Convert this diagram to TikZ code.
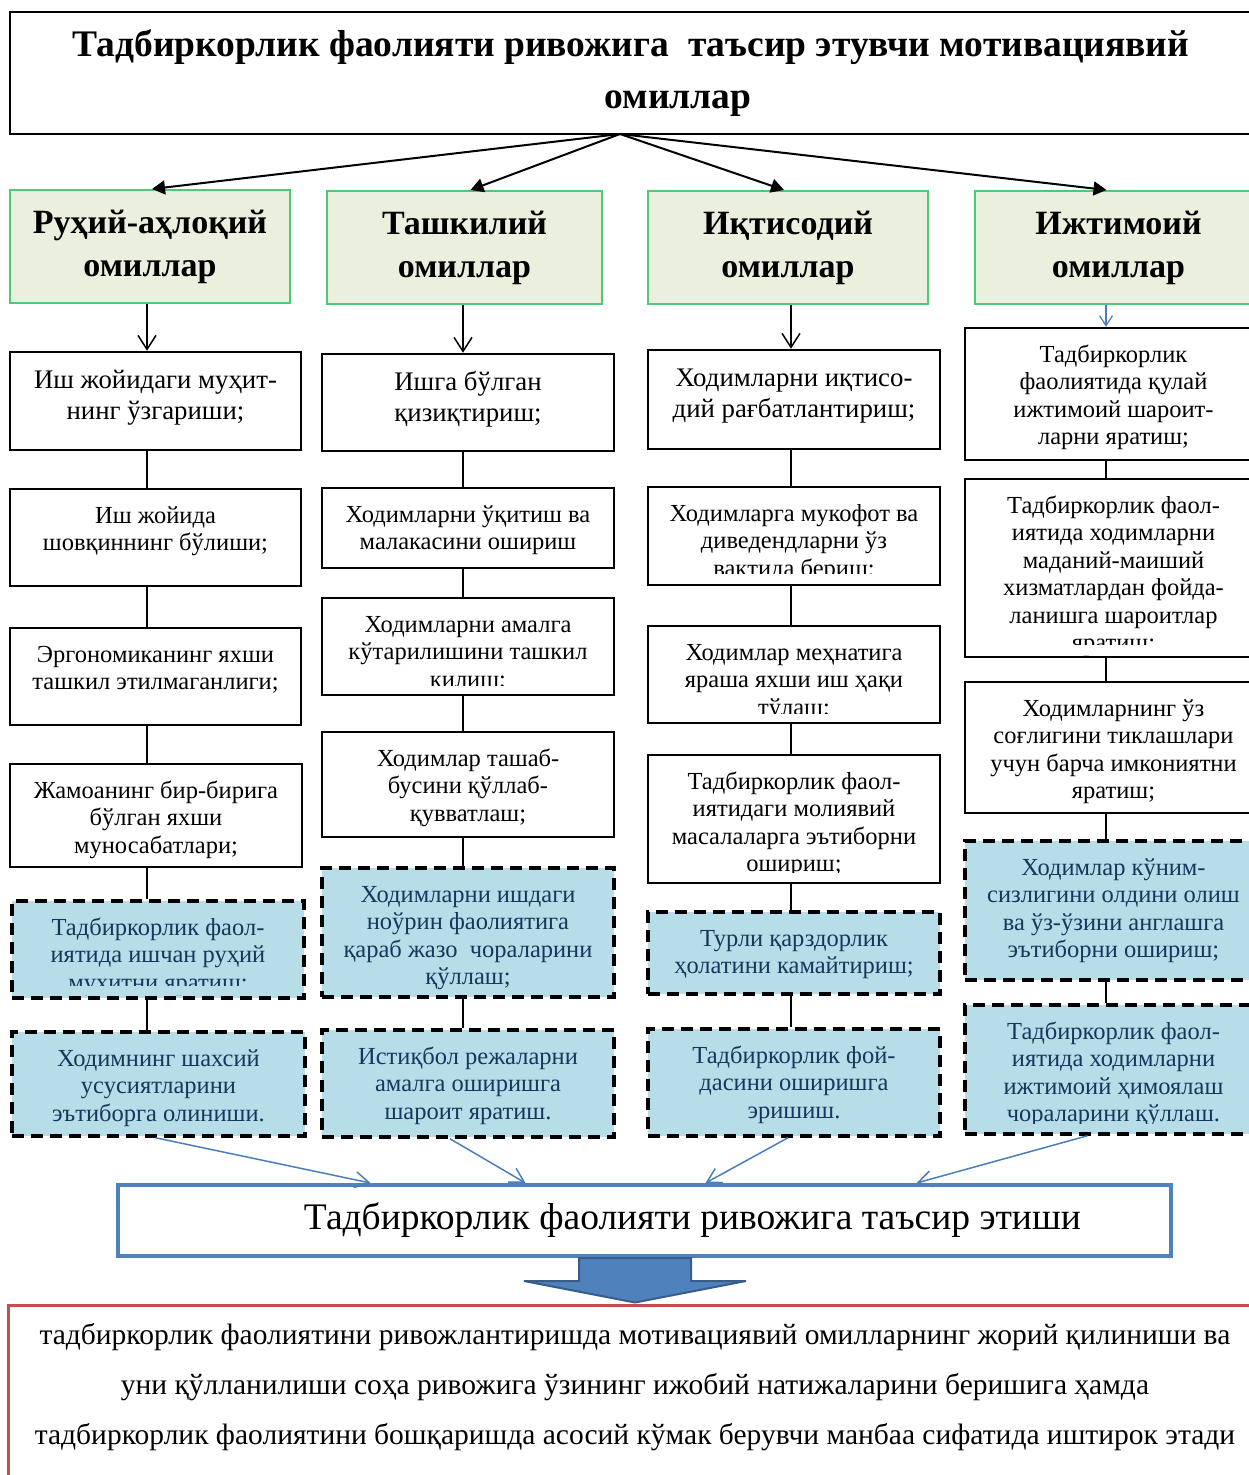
\documentclass[tikz,border=0pt]{standalone}
\usepackage{fontspec}
\setmainfont{Liberation Serif}
\usetikzlibrary{arrows.meta,calc}
\definecolor{catgreen}{RGB}{80,200,120}
\definecolor{catfill}{RGB}{235,240,222}
\definecolor{lblue}{RGB}{183,221,232}
\definecolor{navy}{RGB}{23,54,93}
\definecolor{boxblue}{RGB}{79,129,189}
\definecolor{bardraw}{RGB}{56,93,138}
\definecolor{arrblue}{RGB}{74,126,187}
\definecolor{redb}{RGB}{192,80,77}
\newcommand{\tgap}{15pt}
\newcommand{\bx}[7]{\node[#1, minimum width={#5-#3}, minimum height={#6-#4}, inner sep=0pt] (#2) at ({(#3+#5)/2},{(#4+#6)/2}) {\parbox[c][\dimexpr#6pt-#4pt\relax][t]{\dimexpr#5pt-#3pt-8pt\relax}{\centering\vspace*{\tgap}\strut #7\par}};}
\newcommand{\cover}[5]{\fill[#1] (#2,#3) rectangle (#4,#5);}
\begin{document}
\begin{tikzpicture}[x=1pt,y=-1pt,
  titlebox/.style={draw=black, line width=2pt, fill=white, inner sep=0pt, align=center, font=\fontsize{37.5}{52}\selectfont\bfseries},
  catbox/.style={draw=catgreen, line width=2pt, fill=catfill, inner sep=0pt, align=center, font=\fontsize{34}{43}\selectfont\bfseries},
  plainbox/.style={draw=black, line width=2.5pt, fill=white, font=\fontsize{24.5}{27.5}\selectfont},
  bigtext/.style={font=\fontsize{26.8}{31}\selectfont},
  dashbox/.style={draw=black, line width=3.5pt, dash pattern=on 12pt off 7pt, fill=lblue, text=navy, font=\fontsize{24.5}{27.5}\selectfont},
  conn/.style={draw=black, line width=1.5pt},
  tarrow/.style={draw=black, line width=2pt, -{Triangle[length=13pt,width=14pt]}},
  barb/.style={draw=black, line width=1.5pt, -{Straight Barb[length=14pt,width=18pt]}},
  bbarb/.style={draw=arrblue, line width=1.2pt, -{Straight Barb[length=10pt,width=13pt]}},
  blarrow/.style={draw=arrblue, line width=1.5pt, -{Straight Barb[length=14pt,width=16pt]}},
  impactbox/.style={draw=boxblue, line width=4pt, fill=white, inner sep=0pt, align=center, font=\fontsize{37.5}{40}\selectfont},
  resultbox/.style={draw=redb, line width=3pt, fill=white, inner sep=0pt, font=\fontsize{29.5}{50}\selectfont}
]
\useasboundingbox (0,0) rectangle (1248,1475);
\fill[white] (0,0) rectangle (1248,1475);

% title
\node[titlebox, minimum width=1242, minimum height=122] (title) at (631,73)
  {Тадбиркорлик фаолияти ривожига\ \ таъсир этувчи мотивациявий\\\hspace*{94pt}омиллар};
\coordinate (tt) at (620,134);

% categories
\node[catbox, minimum width=280, minimum height=113] (cat1) at (150,246.5) {Руҳий-аҳлоқий\\омиллар};
\node[catbox, minimum width=275, minimum height=113] (cat2) at (464.5,247.5) {Ташкилий\\омиллар};
\node[catbox, minimum width=280, minimum height=113] (cat3) at (788,247.5) {Иқтисодий\\омиллар};
\node[catbox, minimum width=287, minimum height=113] (cat4) at (1118.5,247.5) {Ижтимоий\\омиллар};

\draw[tarrow] (tt) -- ($(cat1.north)+(2,0)$);
\draw[tarrow] (tt) -- ($(cat2.north)+(6,0)$);
\draw[tarrow] (tt) -- ($(cat3.north)+(-4,0)$);
\draw[tarrow] (tt) -- ($(cat4.north)+(-12,0)$);

\coordinate (k1) at (147,0);
\coordinate (k2) at (463,0);
\coordinate (k3) at (791,0);
\coordinate (k4) at (1106,0);

% column 1
\bx{plainbox,bigtext}{c1a}{10}{352}{301}{450}{Иш жойидаги муҳит-\\нинг ўзгариши;}
\bx{plainbox}{c1b}{10}{489}{301}{586}{Иш жойида\\шовқиннинг бўлиши;}
\bx{plainbox}{c1c}{10}{628}{301}{725}{Эргономиканинг яхши\\ташкил этилмаганлиги;}
\bx{plainbox}{c1d}{10}{764}{302}{867}{Жамоанинг бир-бирига\\бўлган яхши\\муносабатлари;}
\bx{dashbox}{c1e}{12}{901}{304}{998}{Тадбиркорлик фаол-\\иятида ишчан руҳий\\муҳитни яратиш;}
\cover{lblue}{15}{986}{301}{995}
\bx{dashbox}{c1f}{12}{1032}{305}{1136}{Ходимнинг шахсий\\усусиятларини\\эътиборга олиниши.}

% column 2
\bx{plainbox,bigtext}{c2a}{322}{354}{614}{451}{Ишга бўлган\\қизиқтириш;}
\bx{plainbox}{c2b}{322}{488}{614}{568}{Ходимларни ўқитиш ва\\малакасини ошириш}
\bx{plainbox}{c2c}{322}{598}{614}{695}{Ходимларни амалга\\кўтарилишини ташкил\\қилиш;}
\cover{white}{325}{686}{611}{693}
\bx{plainbox}{c2d}{322}{732}{614}{837}{Ходимлар ташаб-\\бусини қўллаб-\\қувватлаш;}
\bx{dashbox}{c2e}{322}{868}{614}{997}{Ходимларни ишдаги\\ноўрин фаолиятига\\қараб жазо\ \ чораларини\\қўллаш;}
\bx{dashbox}{c2f}{322}{1030}{614}{1137}{Истиқбол режаларни\\амалга оширишга\\шароит яратиш.}

% column 3
\bx{plainbox,bigtext}{c3a}{648}{350}{940}{449}{Ходимларни иқтисо-\\дий рағбатлантириш;}
\bx{plainbox}{c3b}{648}{487}{940}{585}{Ходимларга мукофот ва\\диведендларни ўз\\вақтида бериш;}
\cover{white}{651}{574}{937}{583}
\bx{plainbox}{c3c}{648}{626}{940}{723}{Ходимлар меҳнатига\\яраша яхши иш ҳақи\\тўлаш;}
\cover{white}{651}{714}{937}{721}
\bx{plainbox}{c3d}{648}{755}{940}{883}{Тадбиркорлик фаол-\\иятидаги молиявий\\масалаларга эътиборни\\ошириш;}
\cover{white}{651}{873}{937}{881}
\bx{dashbox}{c3e}{648}{912}{940}{994}{Турли қарздорлик\\ҳолатини камайтириш;}
\bx{dashbox}{c3f}{648}{1029}{940}{1136}{Тадбиркорлик фой-\\дасини оширишга\\эришиш.}

% column 4
\bx{plainbox}{c4a}{965}{328}{1262}{460}{Тадбиркорлик\\фаолиятида қулай\\ижтимоий шароит-\\ларни яратиш;}
\bx{plainbox}{c4b}{965}{479}{1262}{657}{Тадбиркорлик фаол-\\иятида ходимларни\\маданий-маиший\\хизматлардан фойда-\\ланишга шароитлар\\яратиш;}
\cover{white}{968}{645}{1259}{655}
\bx{plainbox}{c4c}{965}{682}{1262}{813}{Ходимларнинг ўз\\соғлигини тиклашлари\\учун барча имкониятни\\яратиш;}
\bx{dashbox}{c4d}{965}{841}{1262}{980}{Ходимлар кўним-\\сизлигини олдини олиш\\ва ўз-ўзини англашга\\эътиборни ошириш;}
\bx{dashbox}{c4e}{965}{1005}{1262}{1134}{Тадбиркорлик фаол-\\иятида ходимларни\\ижтимоий ҳимоялаш\\чораларини қўллаш.}
\cover{lblue}{968}{1124}{1259}{1132}

% arrows from categories
\draw[barb] (cat1.south -| k1) -- (c1a.north -| k1);
\draw[barb] (cat2.south -| k2) -- (c2a.north -| k2);
\draw[barb] (cat3.south -| k3) -- (c3a.north -| k3);
\draw[bbarb] (cat4.south -| k4) -- (c4a.north -| k4);

% column connectors
\draw[conn] (c1a.south -| k1) -- (c1b.north -| k1);
\draw[conn] (c1b.south -| k1) -- (c1c.north -| k1);
\draw[conn] (c1c.south -| k1) -- (c1d.north -| k1);
\draw[conn] (c1d.south -| k1) -- (c1e.north -| k1);
\draw[conn] (c1e.south -| k1) -- (c1f.north -| k1);
\draw[conn] (c2a.south -| k2) -- (c2b.north -| k2);
\draw[conn] (c2b.south -| k2) -- (c2c.north -| k2);
\draw[conn] (c2c.south -| k2) -- (c2d.north -| k2);
\draw[conn] (c2d.south -| k2) -- (c2e.north -| k2);
\draw[conn] (c2e.south -| k2) -- (c2f.north -| k2);
\draw[conn] (c3a.south -| k3) -- (c3b.north -| k3);
\draw[conn] (c3b.south -| k3) -- (c3c.north -| k3);
\draw[conn] (c3c.south -| k3) -- (c3d.north -| k3);
\draw[conn] (c3d.south -| k3) -- (c3e.north -| k3);
\draw[conn] (c3e.south -| k3) -- (c3f.north -| k3);
\draw[conn] (c4a.south -| k4) -- (c4b.north -| k4);
\draw[conn] (c4b.south -| k4) -- (c4c.north -| k4);
\draw[conn] (c4c.south -| k4) -- (c4d.north -| k4);
\draw[conn] (c4d.south -| k4) -- (c4e.north -| k4);

% impact box
\node[impactbox, minimum width=1053, minimum height=71] (impact) at (644.5,1220.5)
  {\hspace*{96pt}Тадбиркорлик фаолияти ривожига таъсир этиши};

\draw[blarrow] ($(c1f.south)+(-3,0)$) -- ($(impact.north)+(-274,0)$);
\draw[blarrow] ($(c2f.south)+(-18,0)$) -- ($(impact.north)+(-119,0)$);
\draw[blarrow] ($(c3f.south)+(-6,0)$) -- ($(impact.north)+(61,0)$);
\draw[blarrow] ($(c4e.south)+(-26,0)$) -- ($(impact.north)+(272,0)$);

% result box
\node[resultbox, minimum width=1254, minimum height=185] (result) at (635,1397.5)
  {\parbox[c][185pt][t]{1240pt}{\centering\vspace*{4pt}\strut тадбиркорлик фаолиятини ривожлантиришда мотивациявий омилларнинг жорий қилиниши ва\\
   уни қўлланилиши соҳа ривожига ўзининг ижобий натижаларини беришига ҳамда\\
   тадбиркорлик фаолиятини бошқаришда асосий кўмак берувчи манбаа сифатида иштирок этади\par}};

% block arrow
\coordinate (ba) at ($(impact.south)+(-9.5,0)$);
\filldraw[fill=boxblue, draw=bardraw, line width=2pt, line join=miter]
  ($(ba)+(-56,0)$) -- ++(112,0) -- ++(0,23) -- ++(55,0) -- ($(ba |- result.north)+(0,-1)$)
  -- ($(ba)+(-111,23)$) -- ++(55,0) -- cycle;
\end{tikzpicture}
\end{document}
